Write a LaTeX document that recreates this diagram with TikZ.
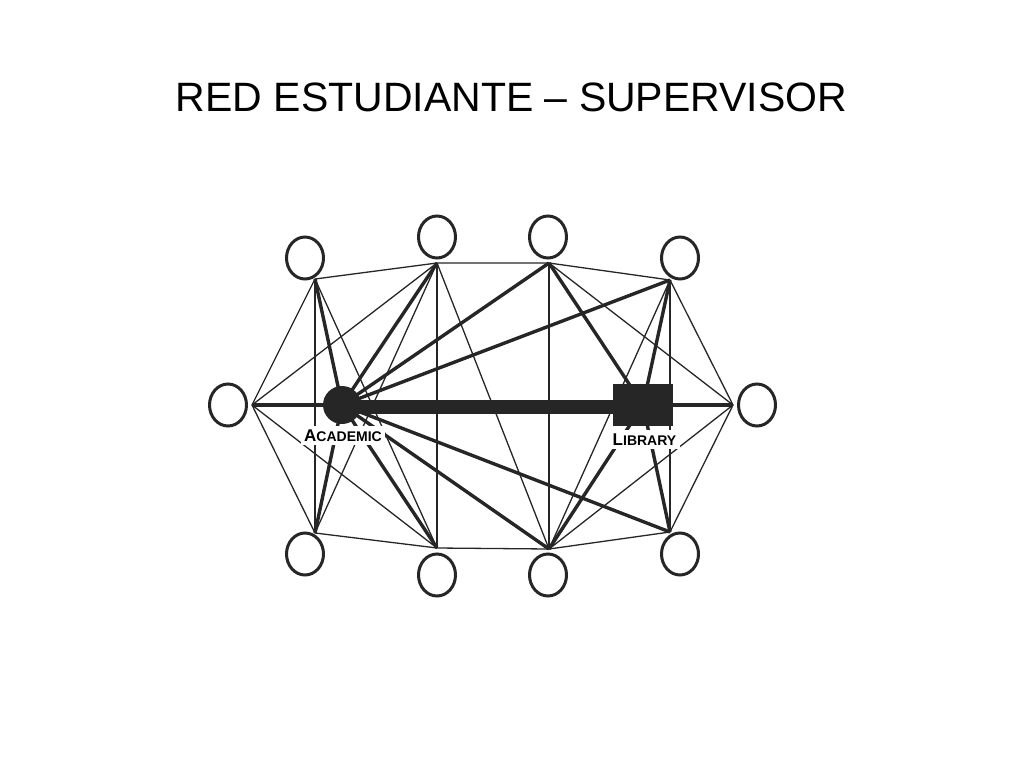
\documentclass[tikz,border=0pt]{standalone}
\usepackage{fontspec}
\setmainfont{Liberation Sans}
\usepackage{tikz}
\usetikzlibrary{shapes.geometric}
\tikzset{
person/.style = {ellipse, draw=black!85, line width=3pt, fill=white, minimum width=37pt, minimum height=42pt, inner sep=0pt},
thinTie/.style = {draw=black!85, line width=1.3pt},
strongTie/.style = {draw=black!85, line width=3.4pt},
barTie/.style = {draw=black!85, line width=14pt},
tag/.style = {fill=white, inner sep=3.5pt, anchor=base, font=\bfseries},
}
\newcommand{\capTag}[2]{{\fontsize{17}{17}\selectfont #1}{\fontsize{14}{14}\selectfont #2}}

\begin{document}
\begin{tikzpicture}[x=1pt,y=-1pt]
  \useasboundingbox (0,0) rectangle (1024,768);

  % Title
    \node[anchor=base, font=\fontsize{41}{41}\selectfont] (titleText) at (511.5,111) {RED ESTUDIANTE – SUPERVISOR};

  % Hubs (where the ties meet)
    \coordinate (hubL) at (252,405);
    \coordinate (hubR) at (733,405);
    \coordinate (hubT1) at (315,279);
    \coordinate (hubT2) at (437,263);
    \coordinate (hubT3) at (549,263);
    \coordinate (hubT4) at (670,280);
    \coordinate (hubB1) at (315,533);
    \coordinate (hubB2) at (437,548);
    \coordinate (hubB3) at (549,549);
    \coordinate (hubB4) at (670,532);

  % Persons
    \node[person] (perL) at (228,405) {};
    \node[person] (perR) at (757,405) {};
    \node[person] (perT1) at (305,258) {};
    \node[person] (perT2) at (437,237) {};
    \node[person] (perT3) at (548,237) {};
    \node[person] (perT4) at (680,258) {};
    \node[person] (perB1) at (305,554) {};
    \node[person] (perB2) at (437,575) {};
    \node[person] (perB3) at (548,575) {};
    \node[person] (perB4) at (680,554) {};

  % Academic and library
    \node[circle, fill=black!85, minimum size=38pt, inner sep=0pt] (acadDot) at (342,405) {};
    \node[rectangle, fill=black!85, minimum width=60pt, minimum height=42pt, inner sep=0pt] (libBox) at (643,405) {};

  % Thin ties
    \draw[thinTie] (hubL) -- (hubT1) -- (hubT2) -- (hubT3) -- (hubT4) -- (hubR);
    \draw[thinTie] (hubR) -- (hubB4) -- (hubB3) -- (hubB2) -- (hubB1) -- (hubL);
    \draw[thinTie] (hubT1) -- (hubB1);
    \draw[thinTie] (hubT2) -- (hubB2);
    \draw[thinTie] (hubT3) -- (hubB3);
    \draw[thinTie] (hubT4) -- (hubB4);
    \draw[thinTie] (hubL) -- (hubT2);
    \draw[thinTie] (hubL) -- (hubB2);
    \draw[thinTie] (hubR) -- (hubT3);
    \draw[thinTie] (hubR) -- (hubB3);
    \draw[thinTie] (hubT1) -- (hubB2);
    \draw[thinTie] (hubT2) -- (hubB1);
    \draw[thinTie] (hubT2) -- (hubB3);
    \draw[thinTie] (hubT4) -- (hubB3);

  % Strong ties
    \draw[strongTie] (hubL) -- (acadDot.center);
    \draw[strongTie] (hubT1) -- (acadDot.center);
    \draw[strongTie] (hubT2) -- (acadDot.center);
    \draw[strongTie] (hubT3) -- (acadDot.center);
    \draw[strongTie] (hubT4) -- (acadDot.center);
    \draw[strongTie] (hubB1) -- (acadDot.center);
    \draw[strongTie] (hubB2) -- (acadDot.center);
    \draw[strongTie] (hubB3) -- (acadDot.center);
    \draw[strongTie] (hubB4) -- (acadDot.center);
    \draw[strongTie] (libBox.center) -- (hubR);
    \draw[strongTie] (hubT3) -- (libBox.center);
    \draw[strongTie] (hubT4) -- (libBox.center);
    \draw[strongTie] (hubB3) -- (libBox.center);
    \draw[strongTie] (hubB4) -- (libBox.center);
    \draw[barTie] ([yshift=-2pt]acadDot.center) -- ([yshift=-2pt]libBox.center);

  % Labels
    \node[tag] (acadLabel) at (343,441) {\capTag{A}{CADEMIC}};
    \node[tag] (libLabel) at (644.5,445) {\capTag{L}{IBRARY}};
\end{tikzpicture}
\end{document}
